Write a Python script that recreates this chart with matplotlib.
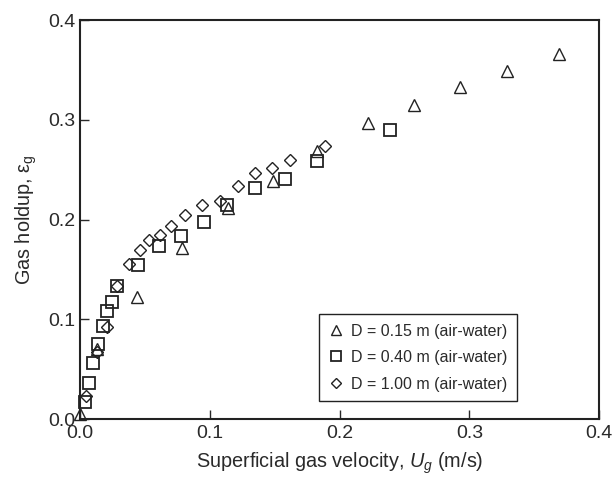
import numpy as np
import matplotlib
matplotlib.use('Agg')
import matplotlib.pyplot as plt

plt.rcParams['font.family'] = ['Liberation Sans', 'DejaVu Sans']
plt.rcParams['mathtext.fontset'] = 'custom'
plt.rcParams['mathtext.rm'] = 'Liberation Sans'
plt.rcParams['mathtext.it'] = 'Liberation Sans:italic'

# D = 0.15 m (air-water)
ug_015 = [0.000, 0.013, 0.044, 0.079, 0.114, 0.149, 0.183, 0.222, 0.257, 0.293, 0.329, 0.369]
eg_015 = [0.005, 0.070, 0.122, 0.172, 0.212, 0.239, 0.269, 0.297, 0.315, 0.333, 0.349, 0.366]

# D = 0.40 m (air-water)
ug_040 = [0.004, 0.007, 0.010, 0.014, 0.018, 0.021, 0.025, 0.029, 0.045, 0.061,
          0.078, 0.096, 0.113, 0.135, 0.158, 0.183, 0.239]
eg_040 = [0.017, 0.036, 0.056, 0.075, 0.093, 0.108, 0.117, 0.133, 0.155, 0.174,
          0.184, 0.198, 0.215, 0.232, 0.241, 0.259, 0.290]

# D = 1.00 m (air-water)
ug_100 = [0.005, 0.013, 0.021, 0.029, 0.038, 0.046, 0.053, 0.062, 0.070, 0.081,
          0.094, 0.108, 0.122, 0.135, 0.148, 0.162, 0.189]
eg_100 = [0.023, 0.067, 0.092, 0.133, 0.156, 0.170, 0.180, 0.185, 0.194, 0.205,
          0.215, 0.219, 0.234, 0.247, 0.252, 0.260, 0.274]

txt = '#2a2a2a'

fig = plt.figure(figsize=(6.14, 4.79), dpi=100)
ax = fig.add_axes([0.130, 0.125, 0.846, 0.833])

ax.plot(ug_015, eg_015, linestyle='none', marker='^', markersize=9, mfc='none',
        mec='#222222', mew=1.0, label='D = 0.15 m (air-water)', clip_on=False)
ax.plot(ug_040, eg_040, linestyle='none', marker='s', markersize=8, mfc='none',
        mec='#222222', mew=1.3, label='D = 0.40 m (air-water)', clip_on=False)
ax.plot(ug_100, eg_100, linestyle='none', marker='D', markersize=6, mfc='none',
        mec='#222222', mew=1.0, label='D = 1.00 m (air-water)', clip_on=False)

ax.set_xlim(0, 0.4)
ax.set_ylim(0, 0.4)
ax.set_xticks([0.0, 0.1, 0.2, 0.3, 0.4])
ax.set_yticks([0.0, 0.1, 0.2, 0.3, 0.4])
ax.xaxis.set_major_formatter(matplotlib.ticker.FormatStrFormatter('%.1f'))
ax.yaxis.set_major_formatter(matplotlib.ticker.FormatStrFormatter('%.1f'))
ax.tick_params(direction='in', length=6.5, width=1.0, labelsize=14, colors=txt,
               top=False, right=False, pad=3)
ax.tick_params(axis='x', pad=4)

for s in ax.spines.values():
    s.set_linewidth(1.5)
    s.set_color('#222222')

ax.set_xlabel(r'Superficial gas velocity, $U_g$ (m/s)', fontsize=14.3, color=txt, labelpad=6)
ax.set_ylabel(r'Gas holdup, ε$_\mathregular{g}$', fontsize=14.3, color=txt, labelpad=7)

leg = ax.legend(loc='lower right', bbox_to_anchor=(0.842, 0.045), borderaxespad=0,
                fontsize=11.5, fancybox=False, framealpha=1, edgecolor='#222222',
                markerscale=0.85, handletextpad=0.5, handlelength=0.9,
                borderpad=0.6, labelspacing=0.72)
leg.get_frame().set_linewidth(1.0)
for t in leg.get_texts():
    t.set_color(txt)

fig.savefig('out.png', dpi=100)
